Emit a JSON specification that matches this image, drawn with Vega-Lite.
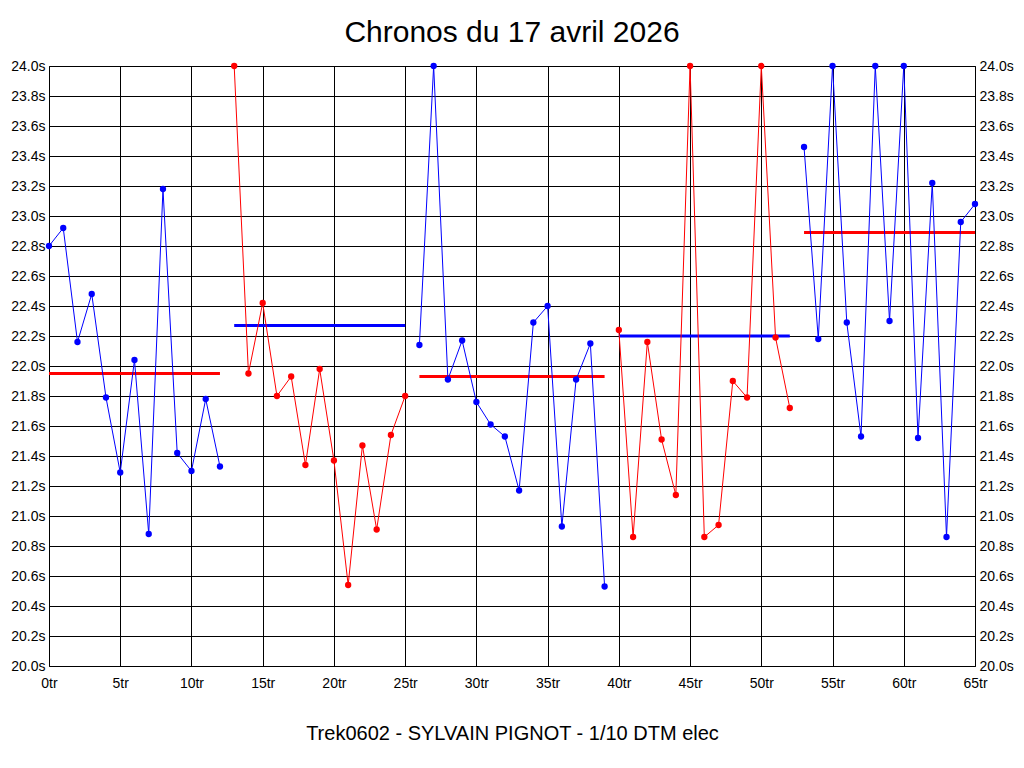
{
  "$schema": "https://vega.github.io/schema/vega-lite/v6.json",
  "width": 926,
  "height": 600,
  "autosize": {"type": "none"},
  "padding": {"left": 49, "top": 66, "right": 49, "bottom": 102},
  "background": "white",
  "title": {
    "text": "Chronos du 17 avril 2026",
    "fontSize": 30,
    "font": "Liberation Sans",
    "fontWeight": "normal",
    "color": "black",
    "anchor": "middle",
    "baseline": "bottom",
    "offset": 16,
    "dy": 35
  },
  "datasets": {
    "tours": [
      {"tour": 0, "temps": 22.80, "relais": 1, "groupe": "A"},
      {"tour": 1, "temps": 22.92, "relais": 1, "groupe": "A"},
      {"tour": 2, "temps": 22.16, "relais": 1, "groupe": "A"},
      {"tour": 3, "temps": 22.48, "relais": 1, "groupe": "A"},
      {"tour": 4, "temps": 21.79, "relais": 1, "groupe": "A"},
      {"tour": 5, "temps": 21.29, "relais": 1, "groupe": "A"},
      {"tour": 6, "temps": 22.04, "relais": 1, "groupe": "A"},
      {"tour": 7, "temps": 20.88, "relais": 1, "groupe": "A"},
      {"tour": 8, "temps": 23.18, "relais": 1, "groupe": "A"},
      {"tour": 9, "temps": 21.42, "relais": 1, "groupe": "A"},
      {"tour": 10, "temps": 21.30, "relais": 1, "groupe": "A"},
      {"tour": 11, "temps": 21.78, "relais": 1, "groupe": "A"},
      {"tour": 12, "temps": 21.33, "relais": 1, "groupe": "A"},
      {"tour": 13, "temps": 24.00, "relais": 2, "groupe": "B"},
      {"tour": 14, "temps": 21.95, "relais": 2, "groupe": "B"},
      {"tour": 15, "temps": 22.42, "relais": 2, "groupe": "B"},
      {"tour": 16, "temps": 21.80, "relais": 2, "groupe": "B"},
      {"tour": 17, "temps": 21.93, "relais": 2, "groupe": "B"},
      {"tour": 18, "temps": 21.34, "relais": 2, "groupe": "B"},
      {"tour": 19, "temps": 21.98, "relais": 2, "groupe": "B"},
      {"tour": 20, "temps": 21.37, "relais": 2, "groupe": "B"},
      {"tour": 21, "temps": 20.54, "relais": 2, "groupe": "B"},
      {"tour": 22, "temps": 21.47, "relais": 2, "groupe": "B"},
      {"tour": 23, "temps": 20.91, "relais": 2, "groupe": "B"},
      {"tour": 24, "temps": 21.54, "relais": 2, "groupe": "B"},
      {"tour": 25, "temps": 21.80, "relais": 2, "groupe": "B"},
      {"tour": 26, "temps": 22.14, "relais": 3, "groupe": "A"},
      {"tour": 27, "temps": 24.00, "relais": 3, "groupe": "A"},
      {"tour": 28, "temps": 21.91, "relais": 3, "groupe": "A"},
      {"tour": 29, "temps": 22.17, "relais": 3, "groupe": "A"},
      {"tour": 30, "temps": 21.76, "relais": 3, "groupe": "A"},
      {"tour": 31, "temps": 21.61, "relais": 3, "groupe": "A"},
      {"tour": 32, "temps": 21.53, "relais": 3, "groupe": "A"},
      {"tour": 33, "temps": 21.17, "relais": 3, "groupe": "A"},
      {"tour": 34, "temps": 22.29, "relais": 3, "groupe": "A"},
      {"tour": 35, "temps": 22.40, "relais": 3, "groupe": "A"},
      {"tour": 36, "temps": 20.93, "relais": 3, "groupe": "A"},
      {"tour": 37, "temps": 21.91, "relais": 3, "groupe": "A"},
      {"tour": 38, "temps": 22.15, "relais": 3, "groupe": "A"},
      {"tour": 39, "temps": 20.53, "relais": 3, "groupe": "A"},
      {"tour": 40, "temps": 22.24, "relais": 4, "groupe": "B"},
      {"tour": 41, "temps": 20.86, "relais": 4, "groupe": "B"},
      {"tour": 42, "temps": 22.16, "relais": 4, "groupe": "B"},
      {"tour": 43, "temps": 21.51, "relais": 4, "groupe": "B"},
      {"tour": 44, "temps": 21.14, "relais": 4, "groupe": "B"},
      {"tour": 45, "temps": 24.00, "relais": 4, "groupe": "B"},
      {"tour": 46, "temps": 20.86, "relais": 4, "groupe": "B"},
      {"tour": 47, "temps": 20.94, "relais": 4, "groupe": "B"},
      {"tour": 48, "temps": 21.90, "relais": 4, "groupe": "B"},
      {"tour": 49, "temps": 21.79, "relais": 4, "groupe": "B"},
      {"tour": 50, "temps": 24.00, "relais": 4, "groupe": "B"},
      {"tour": 51, "temps": 22.19, "relais": 4, "groupe": "B"},
      {"tour": 52, "temps": 21.72, "relais": 4, "groupe": "B"},
      {"tour": 53, "temps": 23.46, "relais": 5, "groupe": "A"},
      {"tour": 54, "temps": 22.18, "relais": 5, "groupe": "A"},
      {"tour": 55, "temps": 24.00, "relais": 5, "groupe": "A"},
      {"tour": 56, "temps": 22.29, "relais": 5, "groupe": "A"},
      {"tour": 57, "temps": 21.53, "relais": 5, "groupe": "A"},
      {"tour": 58, "temps": 24.00, "relais": 5, "groupe": "A"},
      {"tour": 59, "temps": 22.30, "relais": 5, "groupe": "A"},
      {"tour": 60, "temps": 24.00, "relais": 5, "groupe": "A"},
      {"tour": 61, "temps": 21.52, "relais": 5, "groupe": "A"},
      {"tour": 62, "temps": 23.22, "relais": 5, "groupe": "A"},
      {"tour": 63, "temps": 20.86, "relais": 5, "groupe": "A"},
      {"tour": 64, "temps": 22.96, "relais": 5, "groupe": "A"},
      {"tour": 65, "temps": 23.08, "relais": 5, "groupe": "A"}
    ],
    "moyennes": [
      {"relais": 1, "debut": 0, "fin": 12, "moyenne": 21.95, "groupe": "moyA"},
      {"relais": 2, "debut": 13, "fin": 25, "moyenne": 22.27, "groupe": "moyB"},
      {"relais": 3, "debut": 26, "fin": 39, "moyenne": 21.93, "groupe": "moyA"},
      {"relais": 4, "debut": 40, "fin": 52, "moyenne": 22.20, "groupe": "moyB"},
      {"relais": 5, "debut": 53, "fin": 65, "moyenne": 22.89, "groupe": "moyA"}
    ]
  },
  "config": {
    "view": {"stroke": "black", "strokeWidth": 1},
    "axis": {
      "labelFont": "Liberation Sans",
      "labelFontSize": 14,
      "labelColor": "black",
      "labelFlush": false,
      "ticks": false,
      "domain": false,
      "gridColor": "black",
      "gridOpacity": 1,
      "gridWidth": 1,
      "titleFont": "Liberation Sans",
      "titleColor": "black",
      "titleFontWeight": "normal"
    }
  },
  "resolve": {"axis": {"y": "independent"}},
  "layer": [
    {
      "data": {"name": "moyennes"},
      "mark": {"type": "rule", "strokeWidth": 3},
      "encoding": {
        "x": {
          "field": "debut", "type": "quantitative",
          "scale": {"domain": [0, 65], "nice": false, "zero": false},
          "axis": {
            "title": "Trek0602 - SYLVAIN PIGNOT - 1/10 DTM elec",
            "titleFontSize": 20,
            "titlePadding": 33,
            "values": [0, 5, 10, 15, 20, 25, 30, 35, 40, 45, 50, 55, 60, 65],
            "labelExpr": "datum.value + 'tr'",
            "labelFlush": false,
            "labelPadding": 10,
            "grid": true
          }
        },
        "x2": {"field": "fin"},
        "y": {
          "field": "moyenne", "type": "quantitative",
          "scale": {"domain": [20, 24], "nice": false, "zero": false},
          "axis": {
            "title": null,
            "orient": "left",
            "values": [20, 20.2, 20.4, 20.6, 20.8, 21, 21.2, 21.4, 21.6, 21.8, 22, 22.2, 22.4, 22.6, 22.8, 23, 23.2, 23.4, 23.6, 23.8, 24],
            "labelExpr": "format(datum.value, '.1f') + 's'",
            "labelPadding": 4,
            "grid": true
          }
        },
        "color": {
          "field": "groupe", "type": "nominal",
          "scale": {"domain": ["A", "B", "moyA", "moyB"], "range": ["#0000ff", "#ff0000", "#ff0000", "#0000ff"]},
          "legend": null
        }
      }
    },
    {
      "data": {"name": "tours"},
      "mark": {"type": "line", "strokeWidth": 1},
      "encoding": {
        "x": {"field": "tour", "type": "quantitative"},
        "y": {"field": "temps", "type": "quantitative", "axis": null},
        "detail": {"field": "relais", "type": "nominal"},
        "color": {"field": "groupe", "type": "nominal", "legend": null}
      }
    },
    {
      "data": {"name": "tours"},
      "mark": {"type": "circle", "size": 40, "opacity": 1},
      "encoding": {
        "x": {"field": "tour", "type": "quantitative"},
        "y": {
          "field": "temps", "type": "quantitative",
          "axis": {
            "title": null,
            "orient": "right",
            "values": [20, 20.2, 20.4, 20.6, 20.8, 21, 21.2, 21.4, 21.6, 21.8, 22, 22.2, 22.4, 22.6, 22.8, 23, 23.2, 23.4, 23.6, 23.8, 24],
            "labelExpr": "format(datum.value, '.1f') + 's'",
            "labelPadding": 4,
            "grid": false
          }
        },
        "color": {"field": "groupe", "type": "nominal", "legend": null}
      }
    }
  ]
}
